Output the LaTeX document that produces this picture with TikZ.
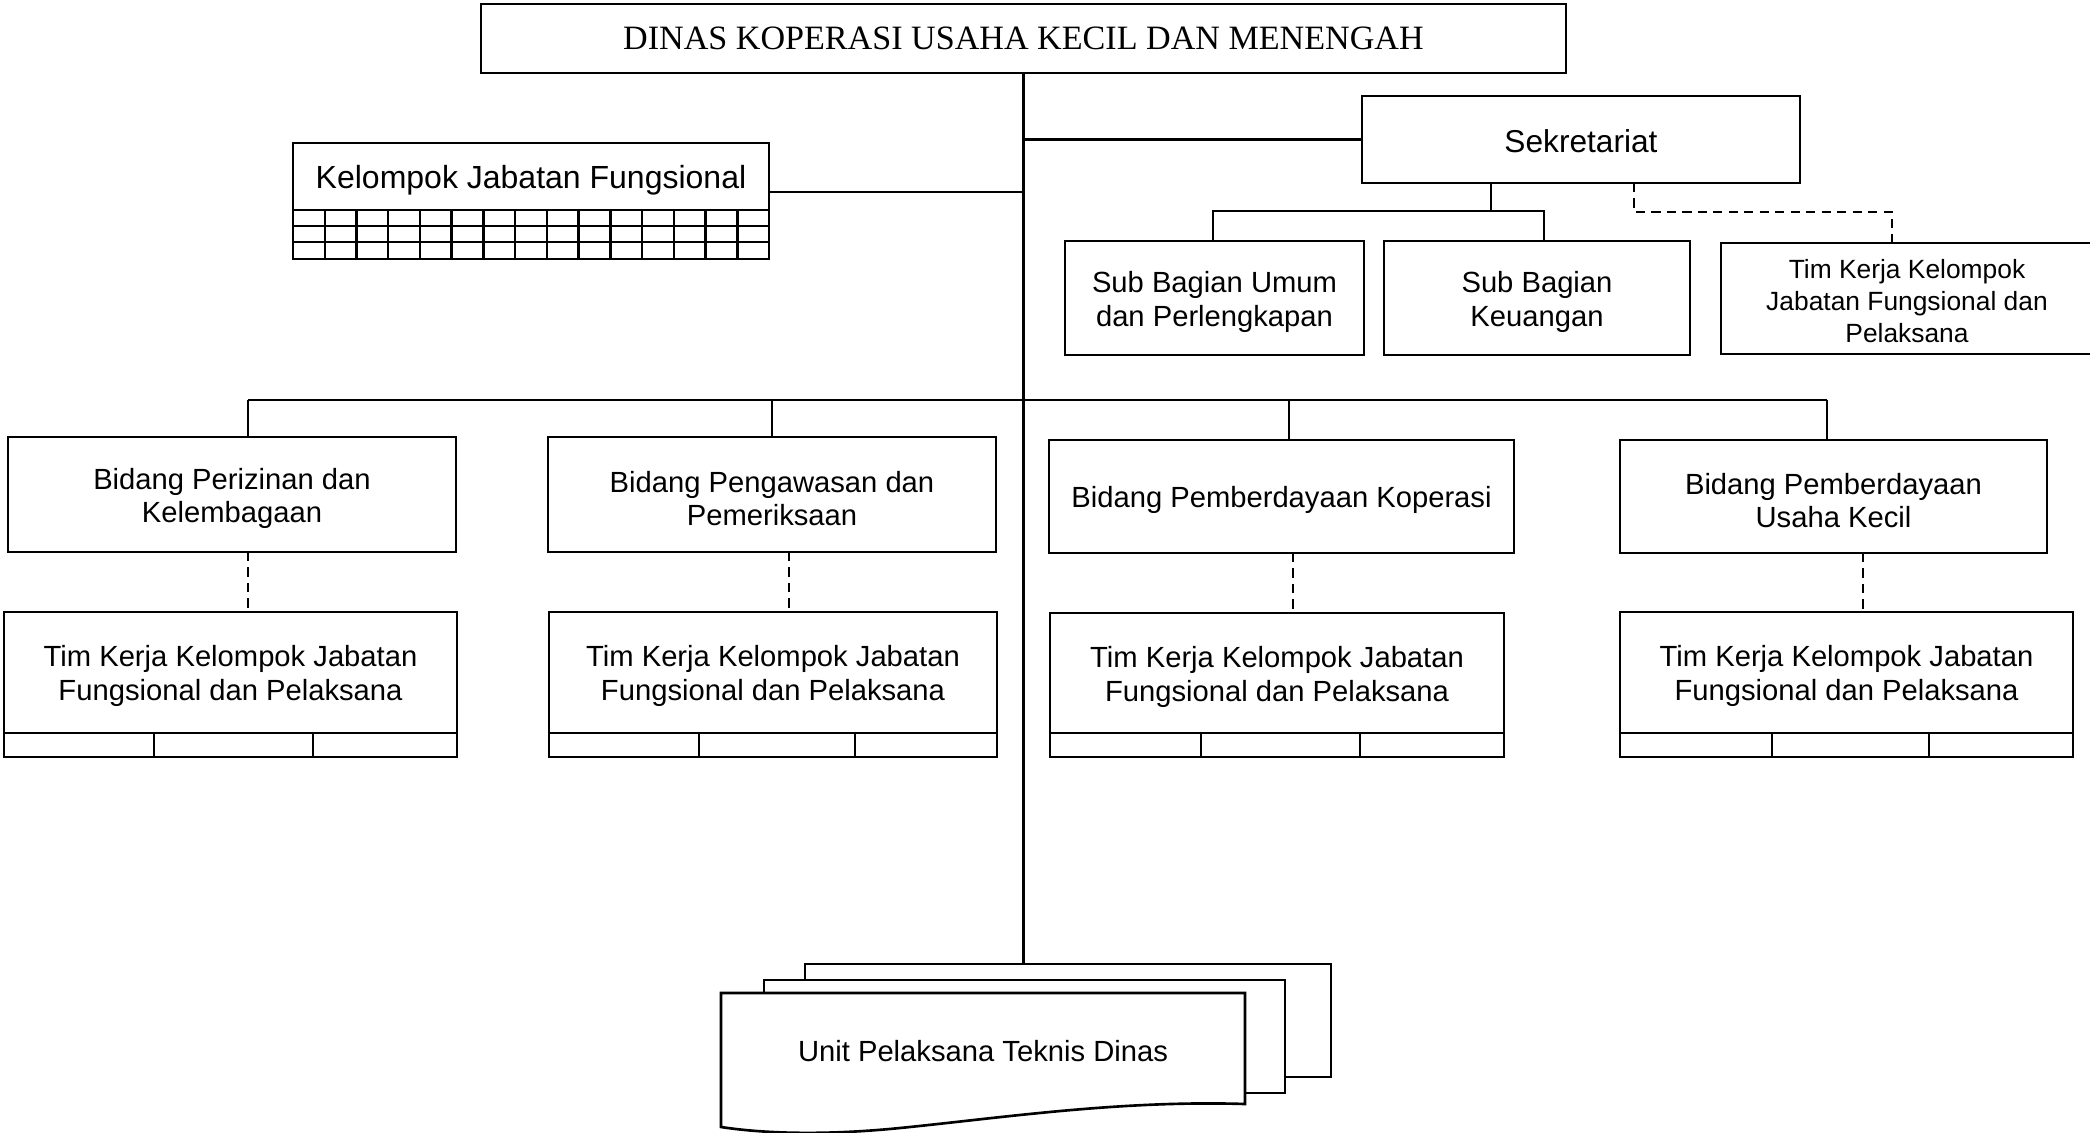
\documentclass[tikz,border=0pt]{standalone}
\usepackage{fontspec}
\setmainfont{Liberation Sans}
\newfontfamily\titleserif{Liberation Serif}
\usetikzlibrary{fit}

\begin{document}
\begin{tikzpicture}[x=0.01cm, y=-0.01cm,
  box/.style={draw, line width=0.75pt, fill=white, inner sep=0pt, outer sep=0pt},
  lbl/.style={inner sep=0pt, align=center, yshift=-1.1pt},
  frame/.style={line width=0.75pt},
  link/.style={line width=0.7pt},
  dotlink/.style={line width=0.7pt, dash pattern=on 2.6pt off 1.8pt},
  bodytext/.style={font=\fontsize{8.3pt}{9.7pt}\selectfont},
]
\useasboundingbox (0,0) rectangle (2090,1133);

% --- head office and staff units ---
\node[box, fit={(481,4)(1566,73)}] (dinas) {};
\node[inner sep=0pt, font=\titleserif\fontsize{9.7pt}{11pt}\selectfont] (dinas-l) at (dinas.center)
  {DINAS KOPERASI USAHA KECIL DAN MENENGAH};
\node[box, fit={(1362,96)(1800,183)}] (sek) {};
\node[inner sep=0pt, yshift=-0.4pt, font=\fontsize{9pt}{10pt}\selectfont] (sek-l) at (sek.center) {Sekretariat};
\node[box, fit={(293,143)(769,210)}] (kjf) {};
\node[lbl, font=\fontsize{9.1pt}{10pt}\selectfont] (kjf-l) at (kjf.center) {Kelompok Jabatan Fungsional};
% grid under the functional group
\draw[frame] (kjf.south west) rectangle (kjf.south east |- 0,259);
\foreach \yy in {226,242} \draw[link] (293,\yy) -- (769,\yy);
\foreach \i in {1,...,14} \draw[link] ({293+\i*476/15},210) -- ({293+\i*476/15},259);

\node[box, fit={(1065,241)(1364,355)}] (subum) {};
\node[lbl, font=\fontsize{8.3pt}{9.9pt}\selectfont] (subum-l) at (subum.center)
  {Sub Bagian Umum\\dan Perlengkapan};
\node[box, fit={(1384,241)(1690,355)}] (subkeu) {};
\node[lbl, font=\fontsize{8.3pt}{9.9pt}\selectfont] (subkeu-l) at (subkeu.center)
  {Sub Bagian\\Keuangan};
\node[box, fit={(1721,243)(2093,354)}] (timsek) {};
\node[lbl, yshift=0.4pt, font=\fontsize{7.5pt}{9.1pt}\selectfont] (timsek-l) at (timsek.center)
  {Tim Kerja Kelompok\\Jabatan Fungsional dan\\Pelaksana};

% --- divisions ---
\node[box, fit={(8,437)(456,552)}] (b1) {};
\node[box, fit={(548,437)(996,552)}] (b2) {};
\node[box, fit={(1049,440)(1514,553)}] (b3) {};
\node[box, fit={(1620,440)(2047,553)}] (b4) {};
\begin{scope}[every node/.style={lbl, font=\fontsize{8.3pt}{9.5pt}\selectfont}]
\node (b1-l) at (b1.center) {Bidang Perizinan dan\\Kelembagaan};
\node (b2-l) at (b2.center) {Bidang Pengawasan dan\\Pemeriksaan};
\node (b3-l) at (b3.center) {Bidang Pemberdayaan Koperasi};
\node (b4-l) at (b4.center) {Bidang Pemberdayaan\\Usaha Kecil};
\end{scope}

% --- working teams with their sub-cells ---
\node[box, fit={(4,612)(457,733)}] (t1) {};
\node[box, fit={(549,612)(997,733)}] (t2) {};
\node[box, fit={(1050,613)(1504,733)}] (t3) {};
\node[box, fit={(1620,612)(2073,733)}] (t4) {};
\foreach \t/\ca/\cb in {t1/154/313, t2/699/855, t3/1201/1360, t4/1772/1929}{
  \node[lbl, bodytext] (\t-l) at (\t.center) {Tim Kerja Kelompok Jabatan\\Fungsional dan Pelaksana};
  \draw[frame] (\t.south west) rectangle (\t.south east |- 0,757);
  \draw[frame] (\t.south -| \ca,0) -- (\ca,757);
  \draw[frame] (\t.south -| \cb,0) -- (\cb,757);
}

% --- technical units (stacked sheets) ---
\node[box, fit={(805,964)(1331,1077)}] (upt3) {};
\node[box, fit={(764,980)(1285,1093)}] (upt2) {};
\draw[frame, fill=white] (721,993) -- (1245,993) -- (1245,1104)
  .. controls (1120,1100) and (1000,1118) .. (900,1128)
  .. controls (820,1136) and (760,1133) .. (721,1127) -- cycle;
\node[inner sep=0pt, bodytext] (upt) at (983,1051) {Unit Pelaksana Teknis Dinas};

% --- connectors ---
\draw[link] (dinas.south) -- (dinas.south |- upt3.north);
\draw[link] (dinas.south |- sek.west) -- (sek.west);
\draw[link] (kjf.east |- 0,192) -- (dinas.south |- 0,192);

\coordinate (sj) at (1491,211);
\coordinate (sa) at (1213,211);
\coordinate (sb) at (1544,211);
\draw[link] (sj |- sek.south) -- (sj);
\draw[link] (sa |- subum.north) -- (sa) -- (sb) -- (sb |- subkeu.north);

\coordinate (sd) at (1634,212);
\coordinate (se) at (1892,212);
\draw[dotlink] (sd |- sek.south) -- (sd) -- (se) -- (se |- timsek.north);

\coordinate (j1) at (248,400);
\coordinate (j2) at (772,400);
\coordinate (j3) at (1289,400);
\coordinate (j4) at (1827,400);
\draw[link] (j1) -- (j4);
\draw[link] (j1) -- (j1 |- b1.north);
\draw[link] (j2) -- (j2 |- b2.north);
\draw[link] (j3) -- (j3 |- b3.north);
\draw[link] (j4) -- (j4 |- b4.north);

\draw[dotlink] (b1.south -| 248,0) -- (t1.north -| 248,0);
\draw[dotlink] (b2.south -| 789,0) -- (t2.north -| 789,0);
\draw[dotlink] (b3.south -| 1293,0) -- (t3.north -| 1293,0);
\draw[dotlink] (b4.south -| 1863,0) -- (t4.north -| 1863,0);
\end{tikzpicture}
\end{document}
